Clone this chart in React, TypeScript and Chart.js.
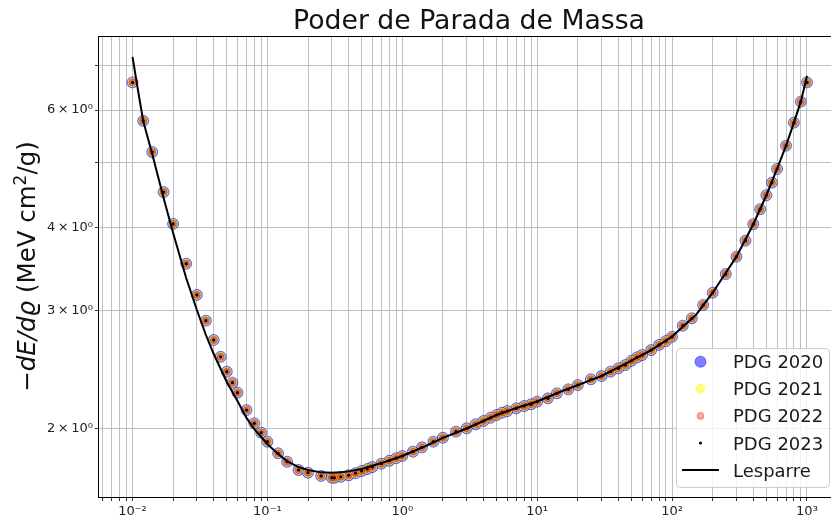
import React, { useEffect, useRef } from 'react';
import { Chart, registerables } from 'chart.js';

Chart.register(...registerables);

const FONT = '"DejaVu Sans", "Liberation Sans", sans-serif';

const chartTitle = 'Poder de Parada de Massa';
const yAxisTitleParts = [
  { text: '\u2212', italic: false, sup: false },
  { text: 'dE/d\u03f1', italic: true, sup: false },
  { text: ' (MeV cm', italic: false, sup: false },
  { text: '2', italic: false, sup: true },
  { text: '/g)', italic: false, sup: false },
];

// PDG muon table energies (GeV)
const pdgEnergies = [
  0.01, 0.012, 0.014, 0.017, 0.02, 0.025, 0.03, 0.035, 0.04, 0.045, 0.05, 0.055, 0.06, 0.07, 0.08, 0.09,
  0.1, 0.12, 0.14, 0.17, 0.2, 0.25, 0.3, 0.314, 0.35, 0.4, 0.45, 0.5, 0.55, 0.6, 0.7, 0.8, 0.9,
  1, 1.2, 1.4, 1.7, 2, 2.5, 3, 3.5, 4, 4.5, 5, 5.5, 6, 7, 8, 9,
  10, 12, 14, 17, 20, 25, 30, 35, 40, 45, 50, 55, 60, 70, 80, 90,
  100, 120, 140, 170, 200, 250, 300, 350, 400, 450, 500, 550, 600, 700, 800, 900,
  1000,
];

// stopping power values (MeV cm^2/g); the four editions coincide on the picture
const pdg2020 = [
  6.60, 5.78, 5.19, 4.52, 4.05, 3.53, 3.17, 2.90, 2.713, 2.56, 2.432, 2.341, 2.262, 2.13, 2.035, 1.970,
  1.910, 1.835, 1.782, 1.732, 1.716, 1.697, 1.687, 1.686, 1.692, 1.701, 1.713, 1.726, 1.738, 1.750, 1.770, 1.788, 1.804,
  1.818, 1.845, 1.873, 1.910, 1.936, 1.977, 2.000, 2.028, 2.051, 2.074, 2.094, 2.111, 2.123, 2.143, 2.160, 2.173,
  2.193, 2.218, 2.257, 2.288, 2.322, 2.369, 2.396, 2.432, 2.460, 2.488, 2.525, 2.555, 2.576, 2.620, 2.667, 2.703,
  2.743, 2.850, 2.924, 3.061, 3.194, 3.406, 3.617, 3.822, 4.045, 4.260, 4.470, 4.670, 4.895, 5.305, 5.744, 6.175,
  6.60,
];
const pdg2021 = pdg2020.slice();
const pdg2022 = pdg2020.slice();
const pdg2023 = pdg2020.slice();

// Lesparre curve
const lesparreEnergies = [
  0.01, 0.011, 0.012, 0.014, 0.017, 0.02, 0.025, 0.03, 0.035, 0.04,
  0.05, 0.06, 0.07, 0.08, 0.09, 0.1, 0.12, 0.14, 0.17, 0.2, 0.25,
  0.3, 0.35, 0.4, 0.5, 0.7, 1, 1.5, 2, 3, 5,
  7, 10, 15, 20, 30, 50, 70, 100, 150, 200,
  300, 400, 500, 600, 700, 800, 900, 1000,
];
const lesparreValues = [
  7.206, 6.408, 5.777, 5.156, 4.430, 3.925, 3.360, 3.009, 2.760, 2.585,
  2.347, 2.198, 2.073, 1.995, 1.941, 1.894, 1.830, 1.786, 1.750, 1.732, 1.718,
  1.716, 1.718, 1.724, 1.738, 1.774, 1.818, 1.882, 1.935, 1.999, 2.094,
  2.145, 2.194, 2.271, 2.322, 2.396, 2.527, 2.620, 2.746, 2.957, 3.194,
  3.617, 4.045, 4.471, 4.895, 5.305, 5.744, 6.176, 6.750,
];

const seriesLabels = ['PDG 2020', 'PDG 2021', 'PDG 2022', 'PDG 2023', 'Lesparre'];

const xMajorTicks = [0.01, 0.1, 1, 10, 100, 1000];
const xMajorLabels = ['10\u207b\u00b2', '10\u207b\u00b9', '10\u2070', '10\u00b9', '10\u00b2', '10\u00b3'];
const yLabelledTicks = [2, 3, 4, 6];
const yTickLabels = ['2\u2009\u00d7\u200910\u2070', '3\u2009\u00d7\u200910\u2070', '4\u2009\u00d7\u200910\u2070', '6\u2009\u00d7\u200910\u2070'];

const X_MIN = 0.005548;
const X_MAX = 1507;
const Y_MIN = 1.578;
const Y_MAX = 7.746;

function logGrid(min: number, max: number) {
  const out: number[] = [];
  for (let e = -4; e <= 4; e++) {
    for (let m = 1; m <= 9; m++) {
      const v = parseFloat((m * Math.pow(10, e)).toPrecision(6));
      if (v >= min && v <= max) out.push(v);
    }
  }
  return out;
}

function findLabel(v: number, ticks: number[], labels: string[]) {
  for (let i = 0; i < ticks.length; i++) {
    if (Math.abs(Math.log10(v) - Math.log10(ticks[i])) < 1e-6) return labels[i];
  }
  return '';
}

const decorPlugin = {
  id: 'decor',
  afterDraw(chart: any) {
    const { ctx, chartArea: a } = chart;
    ctx.save();
    // top spine
    ctx.strokeStyle = '#000';
    ctx.lineWidth = 1;
    ctx.beginPath();
    ctx.moveTo(a.left, a.top + 0.5);
    ctx.lineTo(a.right, a.top + 0.5);
    ctx.stroke();

    // title
    ctx.fillStyle = '#111';
    ctx.font = `26.7px ${FONT}`;
    ctx.textAlign = 'center';
    ctx.textBaseline = 'alphabetic';
    ctx.fillText(chartTitle, 469, 29);

    // y axis title
    const fs = 24.5;
    const partFont = (p: any) => `${p.italic ? 'italic ' : ''}${p.sup ? Math.round(fs * 0.7) : fs}px ${FONT}`;
    let total = 0;
    for (const p of yAxisTitleParts) {
      ctx.font = partFont(p);
      total += ctx.measureText(p.text).width;
    }
    ctx.save();
    ctx.translate(35, (a.top + a.bottom) / 2);
    ctx.rotate(-Math.PI / 2);
    ctx.textAlign = 'left';
    ctx.textBaseline = 'alphabetic';
    let x = -total / 2;
    for (const p of yAxisTitleParts) {
      ctx.font = partFont(p);
      ctx.fillText(p.text, x, p.sup ? -fs * 0.38 : 0);
      x += ctx.measureText(p.text).width;
    }
    ctx.restore();

    // legend
    const lx = 676.5, ly = 348.5, lw = 153, lh = 139;
    ctx.beginPath();
    ctx.roundRect(lx, ly, lw, lh, 4);
    ctx.fillStyle = 'rgba(255,255,255,0.8)';
    ctx.fill();
    ctx.strokeStyle = '#cccccc';
    ctx.lineWidth = 1;
    ctx.stroke();
    const ds = chart.data.datasets;
    for (let i = 0; i < ds.length; i++) {
      const d = ds[i];
      const cy = 361.7 + i * 27.1;
      if (d.showLine) {
        ctx.strokeStyle = d.borderColor;
        ctx.lineWidth = d.borderWidth;
        ctx.beginPath();
        ctx.moveTo(682, cy);
        ctx.lineTo(719, cy);
        ctx.stroke();
      } else {
        ctx.beginPath();
        ctx.arc(700.5, cy, d.pointRadius, 0, Math.PI * 2);
        ctx.fillStyle = d.backgroundColor;
        ctx.fill();
        if (d.borderWidth > 0) {
          ctx.strokeStyle = d.borderColor;
          ctx.lineWidth = d.borderWidth;
          ctx.stroke();
        }
      }
      ctx.fillStyle = '#1a1a1a';
      ctx.font = `18px ${FONT}`;
      ctx.textAlign = 'left';
      ctx.textBaseline = 'alphabetic';
      ctx.fillText(d.label, 733, cy + 6.5);
    }
    ctx.restore();
  },
};

export default function App() {
  const canvasRef = useRef<HTMLCanvasElement | null>(null);

  useEffect(() => {
    const canvas = canvasRef.current;
    if (!canvas) return;
    const pts = (vals: number[]) => pdgEnergies.map((e, i) => ({ x: e, y: vals[i] }));
    const datasets: any[] = [
      {
        label: seriesLabels[0], data: pts(pdg2020), showLine: false, order: 4,
        backgroundColor: 'rgba(0,0,255,0.5)', borderColor: 'rgba(0,0,255,0.5)', borderWidth: 1, pointRadius: 5.5,
      },
      {
        label: seriesLabels[1], data: pts(pdg2021), showLine: false, order: 3,
        backgroundColor: 'rgba(255,255,0,0.5)', borderColor: 'rgba(255,255,0,0.5)', borderWidth: 1, pointRadius: 4.5,
      },
      {
        label: seriesLabels[2], data: pts(pdg2022), showLine: false, order: 2,
        backgroundColor: 'rgba(255,0,0,0.35)', borderColor: 'rgba(255,0,0,0.35)', borderWidth: 1, pointRadius: 3.5,
      },
      {
        label: seriesLabels[3], data: pts(pdg2023), showLine: false, order: 1,
        backgroundColor: '#000', borderColor: '#000', borderWidth: 0, pointRadius: 1.6,
      },
      {
        label: seriesLabels[4], data: lesparreEnergies.map((e, i) => ({ x: e, y: lesparreValues[i] })),
        showLine: true, order: 0, borderColor: '#000', borderWidth: 2, pointRadius: 0, fill: false, tension: 0,
      },
    ];
    const xGrid = logGrid(X_MIN, X_MAX);
    const yGrid = logGrid(Y_MIN, Y_MAX);
    const zeroPad = (s: any) => {
      s.paddingLeft = 0; s.paddingRight = 0; s.paddingTop = 0; s.paddingBottom = 0;
    };
    const chart = new Chart(canvas, {
      type: 'scatter',
      data: { datasets },
      options: {
        animation: false,
        responsive: false,
        devicePixelRatio: 1,
        events: [],
        layout: { autoPadding: false, padding: { top: 36, left: 0, right: 0, bottom: 0 } },
        plugins: { legend: { display: false }, title: { display: false }, tooltip: { enabled: false } },
        scales: {
          x: {
            type: 'logarithmic', min: X_MIN, max: X_MAX,
            afterBuildTicks: (s: any) => { s.ticks = xGrid.map((v) => ({ value: v })); },
            afterFit: (s: any) => { s.height = 27; zeroPad(s); },
            ticks: {
              autoSkip: false, maxRotation: 0, minRotation: 0, padding: 3, color: '#222',
              font: { family: FONT, size: 13 },
              callback: (v: any) => findLabel(Number(v), xMajorTicks, xMajorLabels),
            },
            grid: { color: '#c0c0c0', lineWidth: 1, tickColor: '#333', tickLength: 4, drawTicks: true },
            border: { display: true, color: '#000', width: 1 },
          },
          y: {
            type: 'logarithmic', min: Y_MIN, max: Y_MAX,
            afterBuildTicks: (s: any) => { s.ticks = yGrid.map((v) => ({ value: v })); },
            afterFit: (s: any) => { s.width = 98; zeroPad(s); },
            ticks: {
              autoSkip: false, padding: 2, color: '#222',
              font: { family: FONT, size: 13 },
              callback: (v: any) => findLabel(Number(v), yLabelledTicks, yTickLabels),
            },
            grid: { color: '#c0c0c0', lineWidth: 1, tickColor: '#333', tickLength: 3, drawTicks: true },
            border: { display: true, color: '#000', width: 1 },
          },
        },
      } as any,
      plugins: [decorPlugin],
    });
    return () => chart.destroy();
  }, []);

  return (
    <div style={{ position: 'fixed', left: 0, top: 0, width: 831, height: 524, background: '#fff' }}>
      <canvas ref={canvasRef} width={831} height={524} style={{ width: 831, height: 524, display: 'block' }} />
    </div>
  );
}
